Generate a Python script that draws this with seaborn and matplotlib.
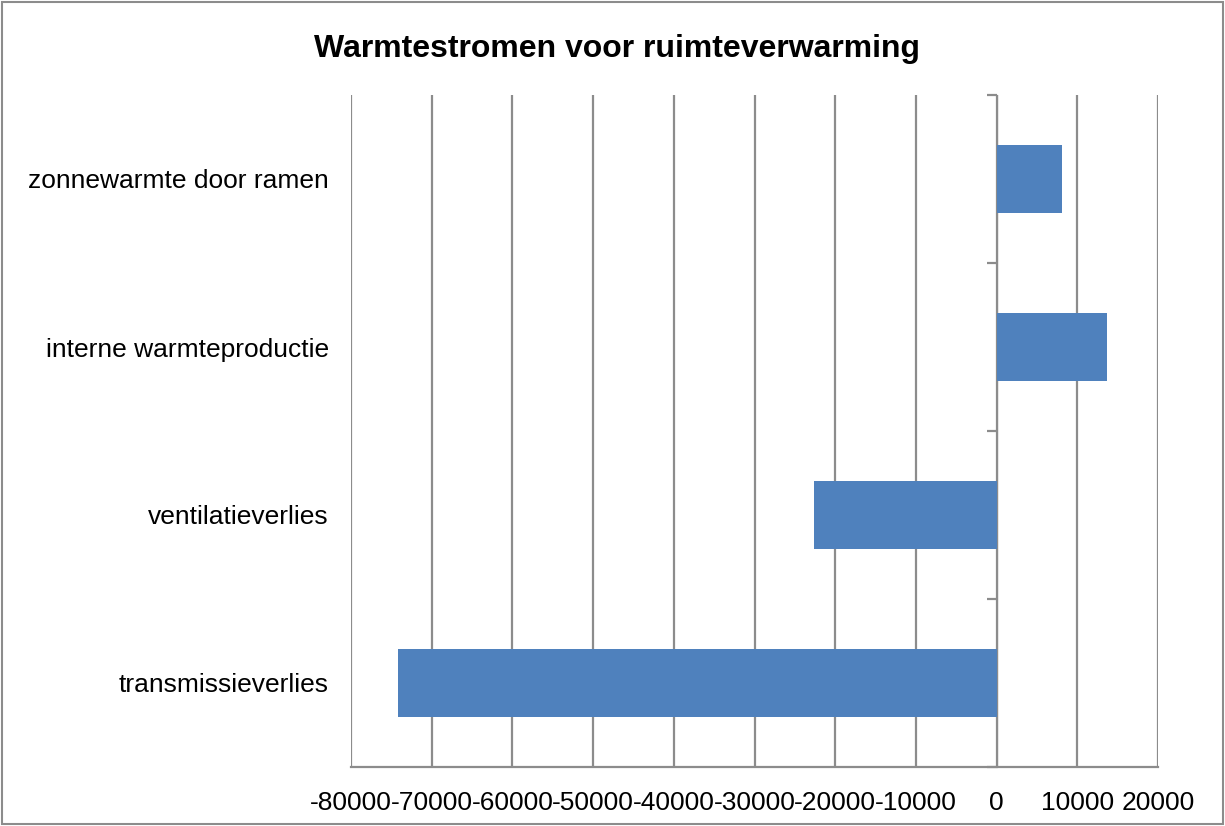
import matplotlib
matplotlib.use("Agg")
import matplotlib.pyplot as plt
import seaborn as sns
import pandas as pd
from matplotlib.patches import Rectangle

categories = ["zonnewarmte door ramen", "interne warmteproductie", "ventilatieverlies", "transmissieverlies"]
values = [8100, 13700, -22600, -74200]
x_ticks = [-80000, -70000, -60000, -50000, -40000, -30000, -20000, -10000, 0, 10000, 20000]
title = "Warmtestromen voor ruimteverwarming"

sns.set_style("white")
plt.rcParams["font.family"] = ["Liberation Sans", "DejaVu Sans"]
plt.rcParams["text.color"] = "black"
plt.rcParams["xtick.color"] = "black"
plt.rcParams["ytick.color"] = "black"

df = pd.DataFrame({"categorie": categories, "waarde": values})

fig = plt.figure(figsize=(12.25, 8.26), dpi=100)
ax = fig.add_axes([351/1225, 1-767/826, (1158-351)/1225, (767-95)/826])

grid_c = "#8c8c8c"
sns.barplot(data=df, x="waarde", y="categorie", order=categories, orient="h",
            width=0.4, color="#4F81BD", saturation=1, linewidth=0, ax=ax, zorder=3)

ax.set_xlim(x_ticks[0], x_ticks[-1])
ax.set_ylim(len(categories) - 0.5, -0.5)
ax.set_xticks(x_ticks)
ax.set_xticklabels([str(t) for t in x_ticks], fontsize=19)
ax.grid(axis="x", color=grid_c, linewidth=1.6, zorder=0)
ax.set_axisbelow(True)
ax.set_xlabel("")
ax.set_ylabel("")

for s in ["top", "right", "left"]:
    ax.spines[s].set_visible(False)
ax.spines["bottom"].set_color(grid_c)
ax.spines["bottom"].set_linewidth(1.6)
ax.tick_params(axis="x", direction="out", length=8, width=1.6, color=grid_c,
               labelcolor="black", pad=9)
ax.tick_params(axis="y", length=0, pad=16, labelsize=19, labelcolor="black")

# vertical axis at x=0 with ticks at category boundaries
zero_pos = (0 - x_ticks[0]) / (x_ticks[-1] - x_ticks[0])
sec = ax.secondary_yaxis(zero_pos)
sec.set_yticks([i + 0.5 for i in range(-1, len(categories))])
sec.set_yticklabels([])
sec.spines["left"].set_color(grid_c)
sec.spines["left"].set_linewidth(1.6)
sec.tick_params(axis="y", direction="in", length=7, width=1.6, color=grid_c)

fig.text(617/1225, 1-49/826, title, ha="center", va="center",
         fontsize=23, fontweight="bold", color="black")

fig.patches.append(Rectangle((0.002, 0.002), 0.996, 0.996, transform=fig.transFigure,
                             fill=False, edgecolor="#8c8c8c", linewidth=1.5))

fig.savefig("out.png", dpi=100)
